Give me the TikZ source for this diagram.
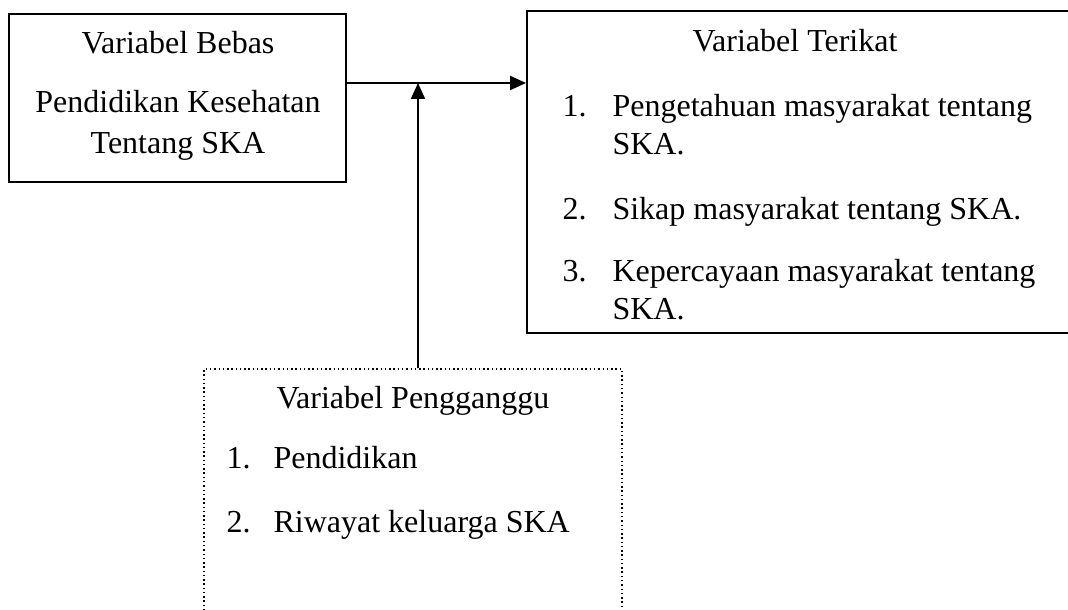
\documentclass[tikz,border=0pt]{standalone}
\usepackage{fontspec}
\setmainfont{Liberation Serif}
\usetikzlibrary{arrows.meta,positioning}
\begin{document}
\begin{tikzpicture}[x=0.375pt,y=-0.375pt,
  kotak/.style={draw,line width=0.75pt,inner sep=0pt},
  titik/.style={draw,line width=0.55pt,dash pattern=on 0.55pt off 1.05pt,inner sep=0pt},
  teks/.style={anchor=base,inner sep=0pt,font=\fontsize{12pt}{14pt}\selectfont},
  kiri/.style={teks,anchor=base west},
  panah/.style={line width=0.75pt,-{Triangle[width=5.25pt,length=6pt]}}]
\useasboundingbox (0,0) rectangle (1068,609);

\node[kotak,minimum width=126.4pt,minimum height=63pt] (bebas) at (177.5,98) {};
\node[kotak,minimum width=203.6pt,minimum height=120.75pt] (terikat) at (798.5,172) {};
\node[titik,minimum width=156.75pt,minimum height=94.1pt] (ganggu) at (413,494.5) {};

\node[teks] (b1) at (178,54) {Variabel Bebas};
\node[teks] (b2) at (178,113) {Pendidikan Kesehatan};
\node[teks] (b3) at (178,154) {Tentang SKA};

\node[teks] (t0) at (795,52) {Variabel Terikat};
\node[kiri] (n1) at (562,117) {1.};
\node[kiri] (t1) at (612,117) {Pengetahuan masyarakat tentang};
\node[kiri] (t1b) at (612,155) {SKA.};
\node[kiri] (n2) at (562,220) {2.};
\node[kiri] (t2) at (612,220) {Sikap masyarakat tentang SKA.};
\node[kiri] (n3) at (562,281) {3.};
\node[kiri] (t3) at (612,281) {Kepercayaan masyarakat tentang};
\node[kiri] (t3b) at (612,319) {SKA.};

\node[teks] (g0) at (413,408) {Variabel Pengganggu};
\node[kiri] (m1) at (226,468) {1.};
\node[kiri] (g1) at (273,468) {Pendidikan};
\node[kiri] (m2) at (226,532) {2.};
\node[kiri] (g2) at (273,532) {Riwayat keluarga SKA};

\coordinate (temu) at (418,83);
\draw[panah] (bebas.east |- temu) -- (terikat.west |- temu);
\draw[panah] (ganggu.north -| temu) -- (temu);
\end{tikzpicture}
\end{document}
